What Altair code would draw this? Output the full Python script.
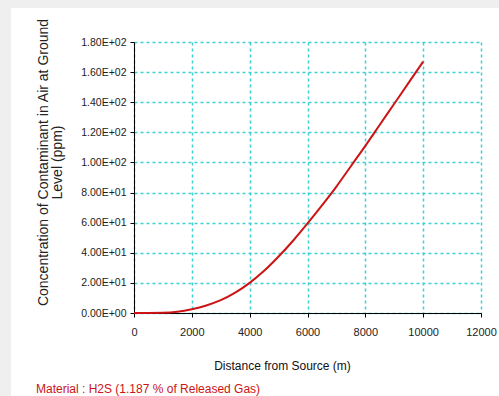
import altair as alt
import pandas as pd

# Ground-level H2S concentration downwind of the release point
distance_m = [0, 500, 1000, 1500, 2000, 2500, 3000, 3500, 4000, 4500, 5000,
              5500, 6000, 6500, 7000, 7500, 8000, 8500, 9000, 9500, 10000]
concentration_ppm = [0, 0, 0.1, 0.8, 2.5, 5, 8.5, 13.5, 20, 28, 37.5,
                     48, 59.5, 71.5, 84, 97.5, 111, 125, 139, 153, 167]

x_ticks = [0, 2000, 4000, 6000, 8000, 10000, 12000]
y_ticks = [0, 20, 40, 60, 80, 100, 120, 140, 160, 180]
y_tick_labels = ["0.00E+00", "2.00E+01", "4.00E+01", "6.00E+01", "8.00E+01",
                 "1.00E+02", "1.20E+02", "1.40E+02", "1.60E+02", "1.80E+02"]

x_title = "Distance from Source (m)"
y_title = ["Concentration of Contaminant in Air at Ground", "Level (ppm)"]
footer = "Material : H2S (1.187 % of Released Gas)"

W, H = 347, 271
PAD_L, PAD_T, PAD_R, PAD_B = 134, 42, 18, 83

SANS = "Liberation Sans, Arial"
GRID = "#3fd0d4"
RED = "#cc1414"

df = pd.DataFrame({"distance": distance_m, "conc": concentration_ppm})
label_lookup = "[" + ",".join(f"'{s}'" for s in y_tick_labels) + "]"

x_enc = alt.X(
    "distance:Q",
    scale=alt.Scale(domain=[0, 12000], nice=False),
    axis=alt.Axis(
        values=x_ticks, format="d", title=x_title,
        grid=True, gridColor=GRID, gridDash=[3, 3], gridWidth=1.5,
        domainColor="black", tickColor="black", tickSize=4,
        labelFont=SANS, labelFontSize=11, labelColor="#222",
        labelPadding=9, labelFlush=False,
        titleFont=SANS, titleFontSize=12, titleFontWeight="normal",
        titleColor="#111", titleX=148, titleY=56, titleBaseline="alphabetic",
    ),
)
y_enc = alt.Y(
    "conc:Q",
    scale=alt.Scale(domain=[0, 180], nice=False),
    axis=alt.Axis(
        values=y_ticks, labelExpr=f"{label_lookup}[round(datum.value / 20)]",
        title=y_title,
        grid=True, gridColor=GRID, gridDash=[3, 3], gridWidth=1.5,
        domainColor="black", tickColor="black", tickSize=4,
        labelFont=SANS, labelFontSize=10.5, labelColor="#222",
        labelPadding=4, labelFlush=False,
        titleFont=SANS, titleFontSize=14,
        titleFontWeight="normal", titleColor="#222",
        titleAngle=-90, titleAlign="center", titleBaseline="alphabetic",
        titleX=-87, titleY=120, titleLineHeight=14,
    ),
)

curve = alt.Chart(df).mark_line(
    color=RED, strokeWidth=2, interpolate="monotone"
).encode(x=x_enc, y=y_enc)

one = pd.DataFrame({"k": [0]})

# light gray frame strips along the top and left edges of the page
top_strip = alt.Chart(one).mark_rect(color="#efefef").encode(
    x=alt.value(-PAD_L), x2=alt.value(W + PAD_R),
    y=alt.value(-PAD_T), y2=alt.value(-PAD_T + 8),
)
left_strip = alt.Chart(one).mark_rect(color="#efefef").encode(
    x=alt.value(-PAD_L), x2=alt.value(-PAD_L + 11),
    y=alt.value(-PAD_T), y2=alt.value(H + PAD_B),
)

note = alt.Chart(one).mark_text(
    text=footer, color=RED, font=SANS, fontSize=12,
    align="left", baseline="alphabetic",
).encode(x=alt.value(36 - PAD_L), y=alt.value(393 - PAD_T))

chart = (
    alt.layer(top_strip, left_strip, curve, note)
    .properties(
        width=W, height=H,
        padding={"left": PAD_L, "top": PAD_T, "right": PAD_R, "bottom": PAD_B},
        autosize=alt.AutoSizeParams(type="none"),
        background="white",
    )
    .configure_view(stroke=None)
)

chart.save("out.html", embed_options={"renderer": "svg", "actions": False})
